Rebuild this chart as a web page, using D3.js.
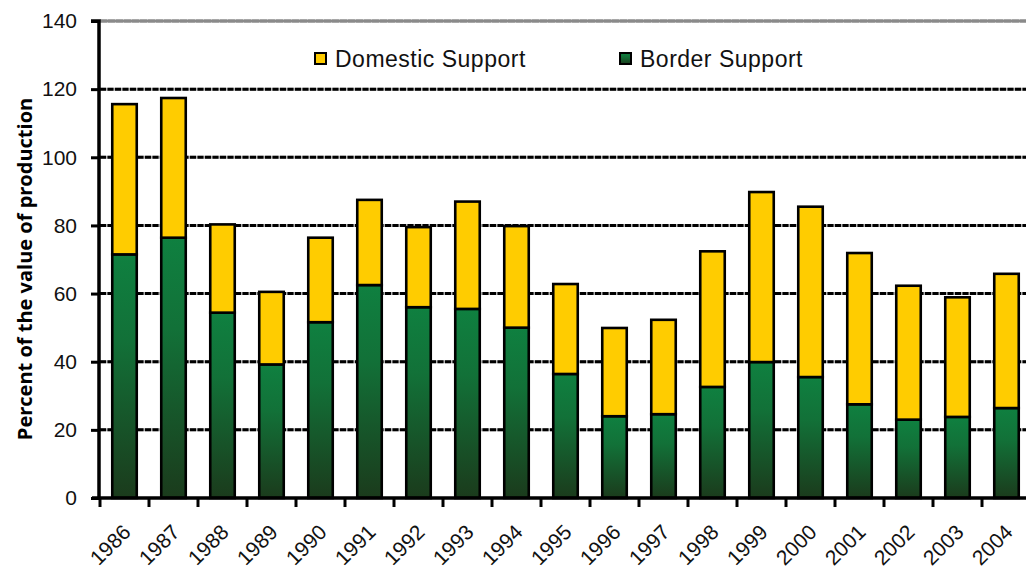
<!DOCTYPE html>
<html>
<head>
<meta charset="utf-8">
<script src="https://cdn.jsdelivr.net/npm/d3@7"></script>
<style>
  html, body { margin: 0; padding: 0; background: #fff; }
  svg { display: block; }
</style>
</head>
<body>
<svg id="chart" width="1026" height="568"></svg>
<script>
// Support as a percent of the value of production, by year
const years = ["1986","1987","1988","1989","1990","1991","1992","1993","1994","1995",
               "1996","1997","1998","1999","2000","2001","2002","2003","2004"];
const borderSupport   = [71.5, 76.4, 54.4, 39.2, 51.6, 62.5, 56.0, 55.5, 50.0, 36.4,
                         24.0, 24.6, 32.6, 39.9, 35.5, 27.5, 23.0, 23.8, 26.4];
const domesticSupport = [44.1, 41.0, 25.9, 21.3, 24.8, 25.0, 23.5, 31.5, 29.8, 26.4,
                         25.9, 27.7, 39.8, 49.9, 50.0, 44.4, 39.3, 35.1, 39.4];
const yTicks = [0, 20, 40, 60, 80, 100, 120, 140];
const seriesNames = ["Domestic Support", "Border Support"];

const svg = d3.select("#chart");
const W = 1026, H = 568;
const margin = { left: 100, top: 21, right: -5, bottom: 70 };
const plotW = W - margin.left - margin.right;
const plotH = H - margin.top - margin.bottom;

const x = d3.scaleBand().domain(years).range([margin.left, margin.left + plotW])
  .paddingInner(0.5).paddingOuter(0.25);
const y = d3.scaleLinear().domain([0, 140]).range([margin.top + plotH, margin.top]);

// vertical gradient for the border-support segments
const defs = svg.append("defs");
const grad = defs.append("linearGradient").attr("id", "greenGrad")
  .attr("x1", 0).attr("y1", 0).attr("x2", 0).attr("y2", 1);
grad.append("stop").attr("offset", "0%").attr("stop-color", "#0f8040");
grad.append("stop").attr("offset", "35%").attr("stop-color", "#127138");
grad.append("stop").attr("offset", "100%").attr("stop-color", "#1b3b1c");

const plotRight = margin.left + plotW;

// horizontal gridlines
const grid = svg.append("g");
yTicks.filter(t => t > 0).forEach(t => {
  const top = t === 140;
  grid.append("line")
    .attr("x1", margin.left).attr("x2", plotRight)
    .attr("y1", y(t)).attr("y2", y(t))
    .attr("stroke", top ? "#8a8a8a" : "#b0b0b0").attr("stroke-width", 3);
  grid.append("line")
    .attr("x1", margin.left).attr("x2", plotRight)
    .attr("y1", y(t)).attr("y2", y(t))
    .attr("stroke", top ? "#8a8a8a" : "#000").attr("stroke-width", 3)
    .attr("stroke-dasharray", top ? "7,1" : "6,1.5");
});

// stacked bars
const stack = d3.stack().keys(["border", "domestic"]);
const rows = years.map((yr, i) => ({ year: yr, border: borderSupport[i], domestic: domesticSupport[i] }));
const layers = stack(rows);
const fills = { border: "url(#greenGrad)", domestic: "#ffcc00" };

svg.append("g").selectAll("g").data(layers).join("g")
  .attr("fill", d => fills[d.key])
  .selectAll("rect").data(d => d).join("rect")
  .attr("x", d => x(d.data.year))
  .attr("width", x.bandwidth())
  .attr("y", d => y(d[1]))
  .attr("height", d => y(d[0]) - y(d[1]))
  .attr("stroke", "#000").attr("stroke-width", 2.6)
  .attr("stroke-linejoin", "miter");

// y axis
const yAxis = d3.axisLeft(y).tickValues(yTicks).tickSize(8).tickPadding(14).tickFormat(d3.format("d"));
const gy = svg.append("g").attr("transform", `translate(${margin.left - 1},0)`).call(yAxis);
gy.select(".domain").attr("stroke", "#000").attr("stroke-width", 3.5);
gy.selectAll(".tick line").attr("stroke", "#000").attr("stroke-width", 3);
gy.selectAll(".tick text").attr("font-family", "Liberation Sans, Arial, sans-serif")
  .attr("font-size", 21).attr("fill", "#111");
gy.select(".domain").attr("d", `M-8,${y(140)}H0V${y(0)}`);

// x axis line and ticks between categories
const baseY = y(0);
svg.append("line").attr("x1", margin.left - 8).attr("x2", plotRight)
  .attr("y1", baseY).attr("y2", baseY).attr("stroke", "#000").attr("stroke-width", 3.5);
const boundaries = years.map(yr => x(yr) - x.bandwidth() / 2);
svg.append("g").selectAll("line").data(boundaries).join("line")
  .attr("x1", d => d).attr("x2", d => d)
  .attr("y1", baseY).attr("y2", baseY + 9)
  .attr("stroke", "#000").attr("stroke-width", 3);

// rotated year labels
svg.append("g").selectAll("text").data(years).join("text")
  .attr("transform", d => `translate(${x(d) + x.bandwidth() / 2 - 3},${baseY + 25}) rotate(-45)`)
  .attr("text-anchor", "end")
  .attr("dy", "0.7em")
  .attr("font-family", "Liberation Sans, Arial, sans-serif")
  .attr("font-size", 21).attr("fill", "#111")
  .text(d => d);

// y axis title
svg.append("text")
  .attr("transform", `translate(32,269) rotate(-90)`)
  .attr("text-anchor", "middle")
  .attr("font-family", "Open Sans, sans-serif")
  .attr("font-weight", "bold")
  .attr("font-size", 20).attr("fill", "#000")
  .text("Percent of the value of production");

// legend
const legendItems = [
  { name: seriesNames[0], fill: "#ffcc00", x: 315 },
  { name: seriesNames[1], fill: "url(#greenGrad)", x: 620 }
];
const lg = svg.append("g").selectAll("g").data(legendItems).join("g")
  .attr("transform", d => `translate(${d.x},53)`);
lg.append("rect").attr("width", 11).attr("height", 11)
  .attr("fill", d => d.fill).attr("stroke", "#000").attr("stroke-width", 2);
lg.append("text").attr("x", 20).attr("y", 14)
  .attr("font-family", "Liberation Sans, Arial, sans-serif")
  .attr("font-size", 23).attr("letter-spacing", 0.5).attr("fill", "#111")
  .text(d => d.name);
</script>
</body>
</html>
